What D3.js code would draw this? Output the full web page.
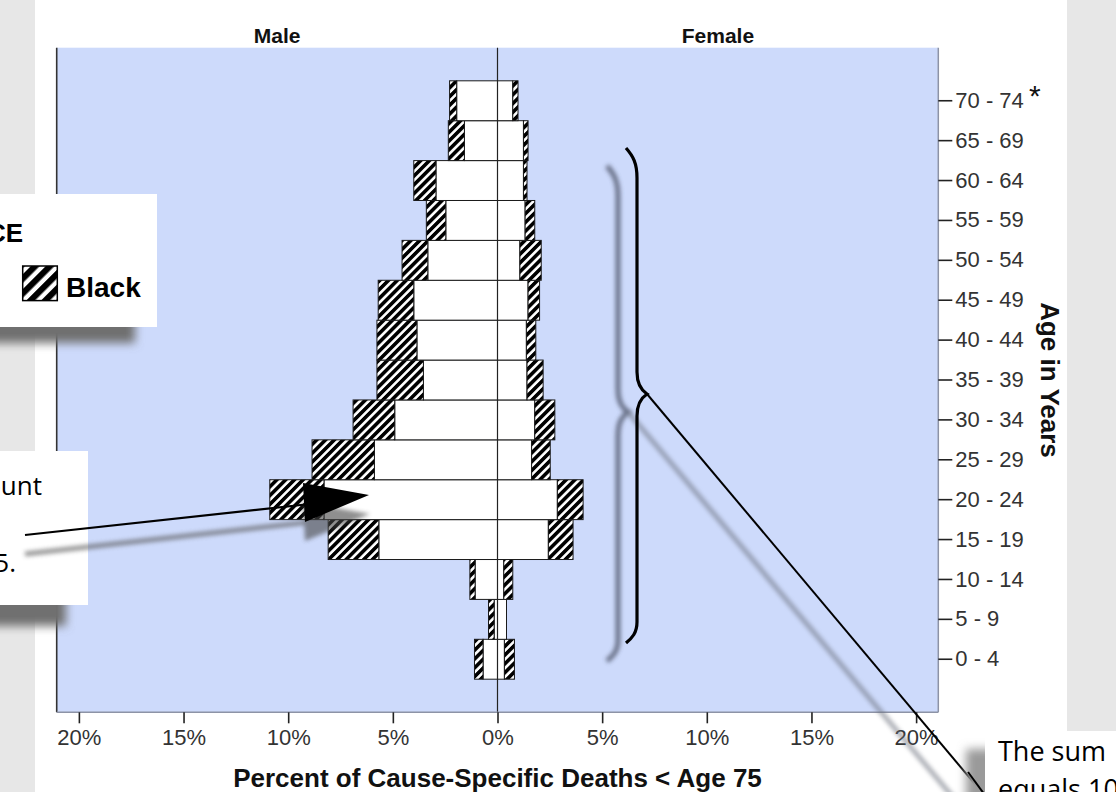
<!DOCTYPE html>
<html>
<head>
<meta charset="utf-8">
<script src="https://cdn.jsdelivr.net/npm/d3@7"></script>
<style>
  html, body { margin: 0; padding: 0; background: #ffffff; overflow: hidden; }
  svg { display: block; }
</style>
</head>
<body>
<svg id="chart" width="1116" height="792"></svg>
<script>
// ---------------- data (percent of cause-specific deaths < age 75) ----------------
const ageGroups   = ["0 - 4","5 - 9","10 - 14","15 - 19","20 - 24","25 - 29","30 - 34","35 - 39","40 - 44","45 - 49","50 - 54","55 - 59","60 - 64","65 - 69","70 - 74"];
const maleOther   = [0.69, 0.16, 1.07, 5.67, 8.29, 5.88, 4.91, 3.54, 3.85, 4.00, 3.33, 2.47, 2.94, 1.58, 1.95];
const maleBlack   = [0.41, 0.27, 0.25, 2.42, 2.59, 2.98, 1.99, 2.22, 1.91, 1.70, 1.23, 0.93, 1.06, 0.77, 0.34];
const femaleOther = [0.33, 0.43, 0.30, 2.43, 2.86, 1.63, 1.78, 1.41, 1.38, 1.46, 1.07, 1.32, 1.24, 1.24, 0.73];
const femaleBlack = [0.48, 0.00, 0.43, 1.18, 1.23, 0.89, 0.96, 0.77, 0.45, 0.55, 1.02, 0.46, 0.17, 0.22, 0.25];
const xTickValues = [-20, -15, -10, -5, 0, 5, 10, 15, 20];
const panelLabels = ["Male", "Female"];
const xTitle = "Percent of Cause-Specific Deaths < Age 75";
const yTitle = "Age in Years";
const legendLabel = "Black";
const legendTitle = "RACE";

// ---------------- layout ----------------
const svg = d3.select("#chart");
const plot = { left: 56.7, right: 938.3, top: 47.7, bottom: 712.3 };
const FONT = "'Liberation Sans', Arial, sans-serif";
const NOTE_FONT = "'Open Sans', 'Noto Sans', sans-serif";

const x = d3.scaleLinear().domain([-21.06, 21.06]).range([plot.left, plot.right]);
const y = d3.scaleBand().domain(ageGroups.slice().reverse())
  .range([plot.top, plot.bottom]).paddingOuter(0.83).paddingInner(0);

const defs = svg.append("defs");
function hatch(id, period, black) {
  const p = defs.append("pattern").attr("id", id).attr("patternUnits", "userSpaceOnUse")
    .attr("width", period).attr("height", period).attr("patternTransform", "rotate(45)");
  p.append("rect").attr("width", period).attr("height", period).attr("fill", "#ffffff");
  p.append("rect").attr("width", black).attr("height", period).attr("fill", "#000000");
}
hatch("hatch", 6.2, 3.6);
hatch("hatchBig", 10.5, 6.2);
function blur(id, sd) {
  defs.append("filter").attr("id", id).attr("x", "-50%").attr("y", "-50%").attr("width", "200%").attr("height", "200%")
    .append("feGaussianBlur").attr("stdDeviation", sd);
}
blur("blur2", 2.2);
blur("blur5", 5);

// page backgrounds
svg.append("rect").attr("x", 0).attr("y", 0).attr("width", 35).attr("height", 792).attr("fill", "#e7e7e7");
svg.append("rect").attr("x", 1067).attr("y", 0).attr("width", 49).attr("height", 731).attr("fill", "#e7e7e7");

// plot area
svg.append("rect").attr("x", plot.left).attr("y", plot.top)
  .attr("width", plot.right - plot.left).attr("height", plot.bottom - plot.top).attr("fill", "#cddafb");

// rows
const rows = ageGroups.map((a, i) => ({
  age: a, mo: maleOther[i], mb: maleBlack[i], fo: femaleOther[i], fb: femaleBlack[i]
}));

const segs = [];
rows.forEach(r => {
  segs.push({ age: r.age, x0: -r.mo, x1: 0, fill: "#ffffff" });
  segs.push({ age: r.age, x0: -(r.mo + r.mb), x1: -r.mo, fill: "url(#hatch)" });
  segs.push({ age: r.age, x0: 0, x1: r.fo, fill: "#ffffff" });
  if (r.fb > 0) segs.push({ age: r.age, x0: r.fo, x1: r.fo + r.fb, fill: "url(#hatch)" });
});

svg.append("g").selectAll("rect").data(segs).join("rect")
  .attr("x", d => x(d.x0)).attr("width", d => x(d.x1) - x(d.x0))
  .attr("y", d => y(d.age)).attr("height", y.bandwidth())
  .attr("fill", d => d.fill).attr("stroke", "#1a1a1a").attr("stroke-width", 1);

// zero line
svg.append("line").attr("x1", x(0)).attr("x2", x(0)).attr("y1", plot.top).attr("y2", plot.bottom)
  .attr("stroke", "#222").attr("stroke-width", 1.2);

// frame lines
svg.append("line").attr("x1", plot.left).attr("x2", plot.left).attr("y1", plot.top).attr("y2", plot.bottom)
  .attr("stroke", "#333").attr("stroke-width", 1.6);

// x axis (bottom)
const xAxis = d3.axisBottom(x).tickValues(xTickValues).tickSize(11).tickPadding(6)
  .tickFormat(d => Math.abs(d) + "%");
const gx = svg.append("g").attr("transform", `translate(0,${plot.bottom})`).call(xAxis);
gx.select(".domain").attr("d", `M${plot.left},0H${plot.right}`).attr("stroke", "#8d93a6").attr("stroke-width", 1.5);
gx.selectAll(".tick line").attr("stroke", "#222").attr("stroke-width", 1.6);
gx.selectAll(".tick text").attr("font-family", FONT).attr("font-size", 22).attr("fill", "#333");

// y axis (right)
const yAxis = d3.axisRight(y).tickSize(14).tickPadding(3);
const gy = svg.append("g").attr("transform", `translate(${plot.right},0)`).call(yAxis);
gy.select(".domain").attr("d", `M0,${plot.top}V${plot.bottom}`).attr("stroke", "#8d93a6").attr("stroke-width", 1.5);
gy.selectAll(".tick line").attr("stroke", "#222").attr("stroke-width", 1.6);
gy.selectAll(".tick text").attr("font-family", FONT).attr("font-size", 22).attr("fill", "#333");

// asterisk next to top label
svg.append("text").attr("x", 1029).attr("y", 106).attr("font-family", FONT).attr("font-size", 30)
  .attr("fill", "#111").text("*");

// panel labels
svg.append("text").attr("x", (x(-21.06) + x(0)) / 2).attr("y", 43).attr("text-anchor", "middle")
  .attr("font-family", FONT).attr("font-weight", "bold").attr("font-size", 21).attr("fill", "#111").text(panelLabels[0]);
svg.append("text").attr("x", (x(0) + x(21.06)) / 2).attr("y", 43).attr("text-anchor", "middle")
  .attr("font-family", FONT).attr("font-weight", "bold").attr("font-size", 21).attr("fill", "#111").text(panelLabels[1]);

// axis titles
svg.append("text").attr("x", x(0)).attr("y", 787).attr("text-anchor", "middle")
  .attr("font-family", FONT).attr("font-weight", "bold").attr("font-size", 26).attr("fill", "#111").text(xTitle);
svg.append("text").attr("transform", `translate(1041,${(plot.top + plot.bottom) / 2}) rotate(90)`)
  .attr("text-anchor", "middle").attr("font-family", FONT).attr("font-weight", "bold").attr("font-size", 26)
  .attr("fill", "#111").text(yTitle);

// ---------------- annotations ----------------
// brace (shadow then brace)
const braceD = "M626,148 C633,156 637,163 637,178 L637,372 C637,384 641,390 647,394 C641,398 637,404 637,416 L637,622 C637,633 632,638 626,643";
svg.append("path").attr("d", braceD).attr("transform", "translate(-19,18)").attr("fill", "none")
  .attr("stroke", "#4a5063").attr("stroke-width", 5).attr("opacity", 0.75).attr("filter", "url(#blur2)");
// callout line shadow
svg.append("line").attr("x1", 628).attr("y1", 412).attr("x2", 968).attr("y2", 815)
  .attr("stroke", "#6a6f7c").attr("stroke-width", 5).attr("opacity", 0.55).attr("filter", "url(#blur2)");
svg.append("path").attr("d", braceD).attr("fill", "none").attr("stroke", "#000").attr("stroke-width", 3.2);
svg.append("line").attr("x1", 647).attr("y1", 394).attr("x2", 990).attr("y2", 802)
  .attr("stroke", "#000").attr("stroke-width", 2);

// bottom-right note box
svg.append("rect").attr("x", 966).attr("y", 749).attr("width", 50).attr("height", 70)
  .attr("fill", "#9a9a9a").attr("filter", "url(#blur5)");
svg.append("rect").attr("x", 985).attr("y", 731).attr("width", 140).attr("height", 70).attr("fill", "#fff");
svg.append("line").attr("x1", 968).attr("y1", 772).attr("x2", 990).attr("y2", 802)
  .attr("stroke", "#000").attr("stroke-width", 2);
svg.append("text").attr("x", 998).attr("y", 761).attr("font-family", NOTE_FONT).attr("font-size", 27)
  .attr("fill", "#000").text("The sum");
svg.append("text").attr("x", 998).attr("y", 799).attr("font-family", NOTE_FONT).attr("font-size", 27)
  .attr("fill", "#000").text("equals 10");

// legend box
svg.append("rect").attr("x", -22).attr("y", 210).attr("width", 157).attr("height", 133)
  .attr("fill", "#6f6f6f").attr("filter", "url(#blur5)");
svg.append("rect").attr("x", -10).attr("y", 194).attr("width", 167).attr("height", 133).attr("fill", "#fff");
svg.append("text").attr("x", 23).attr("y", 242).attr("text-anchor", "end").attr("font-family", FONT)
  .attr("font-weight", "bold").attr("font-size", 26).attr("fill", "#000").text(legendTitle);
svg.append("rect").attr("x", 22.7).attr("y", 266).attr("width", 34.6).attr("height", 34.6)
  .attr("fill", "url(#hatchBig)").attr("stroke", "#000").attr("stroke-width", 1.5);
svg.append("text").attr("x", 66).attr("y", 297).attr("font-family", FONT)
  .attr("font-weight", "bold").attr("font-size", 28).attr("fill", "#000").text(legendLabel);

// left note box with arrow
svg.append("rect").attr("x", -22).attr("y", 470).attr("width", 88).attr("height", 156)
  .attr("fill", "#6f6f6f").attr("filter", "url(#blur5)");
svg.append("rect").attr("x", -10).attr("y", 451).attr("width", 98).attr("height", 154).attr("fill", "#fff");
svg.append("text").attr("x", 42).attr("y", 495).attr("text-anchor", "end").attr("font-family", NOTE_FONT)
  .attr("font-size", 26).attr("fill", "#000").text("account");
svg.append("text").attr("x", 16).attr("y", 572).attr("text-anchor", "end").attr("font-family", NOTE_FONT)
  .attr("font-size", 26).attr("fill", "#000").text("75.");

// arrow shadow
const arrowShadow = svg.append("g").attr("transform", "translate(0,19)").attr("filter", "url(#blur2)").attr("opacity", 0.6);
arrowShadow.append("line").attr("x1", 25).attr("y1", 535).attr("x2", 310).attr("y2", 503)
  .attr("stroke", "#555").attr("stroke-width", 5);
arrowShadow.append("path").attr("d", "M303,483 L370,495 L305,522 Z").attr("fill", "#444");
// arrow
svg.append("line").attr("x1", 25).attr("y1", 535).attr("x2", 310).attr("y2", 504)
  .attr("stroke", "#000").attr("stroke-width", 2.2);
svg.append("path").attr("d", "M303,483 L369,495 L305,522 Z").attr("fill", "#000");
</script>
</body>
</html>
